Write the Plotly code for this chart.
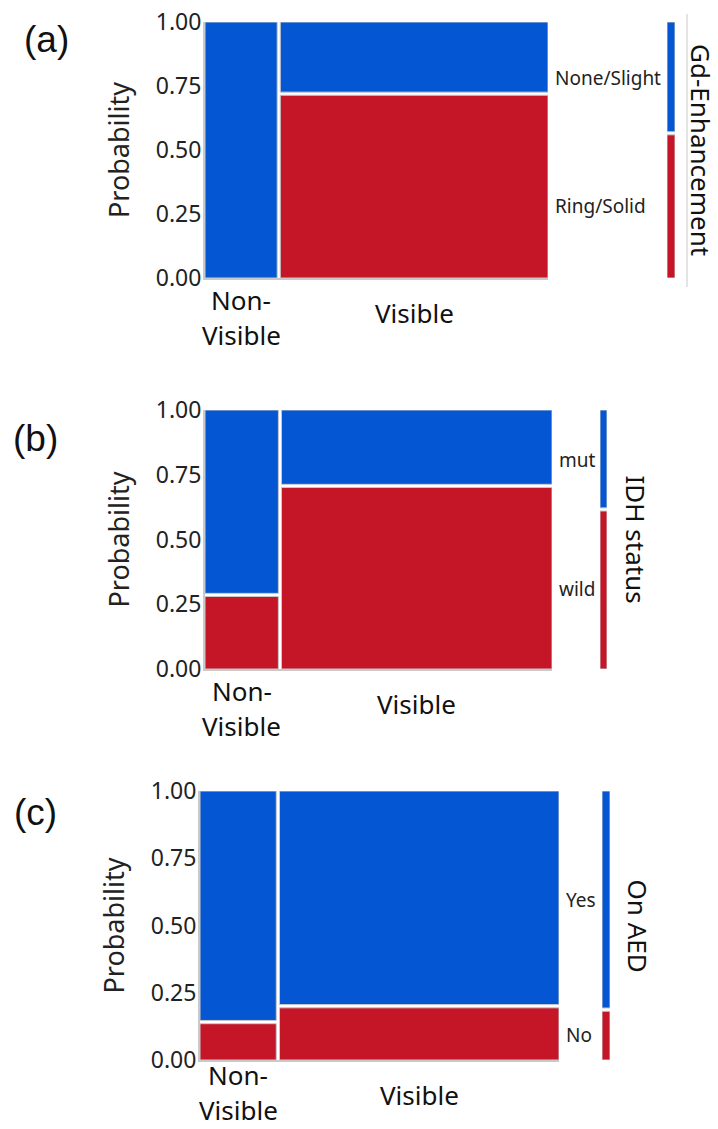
import plotly.graph_objects as go

W, H = 718, 1129

# ---------------- data ----------------
panel_tags = ["(a)", "(b)", "(c)"]
x_categories = ["Non-Visible", "Visible"]
nonvisible_share = [0.215, 0.216, 0.217]          # width of the Non-Visible column
group_titles = ["Gd-Enhancement", "IDH status", "On AED"]
top_levels = ["None/Slight", "mut", "Yes"]        # blue (upper) level
bottom_levels = ["Ring/Solid", "wild", "No"]      # red (lower) level
red_nonvisible = [0.0, 0.286, 0.141]              # proportion of lower level in Non-Visible
red_visible = [0.72, 0.707, 0.20]                 # proportion of lower level in Visible
y_ticks = [0.0, 0.25, 0.5, 0.75, 1.0]

# ---------------- styling ----------------
BLUE = "#0556D3"
RED = "#C51628"
EDGE = "#c9c9c9"
FONT = "Noto Sans"

panels_px = [
    dict(l=205, r=548, t=22, b=278, bar=(667, 675), title_x=701, tag=(46, 40)),
    dict(l=205, r=552, t=410, b=669, bar=(600, 607), title_x=636, tag=(35, 438)),
    dict(l=200, r=559, t=791, b=1060, bar=(602, 610), title_x=638, tag=(35, 812)),
]

def px_x(p):
    return p / W

def px_y(p):
    return 1 - p / H

fig = go.Figure()
annotations = []
shapes = []
layout_axes = {}

GX = 0.009
GY = 0.012

for i in range(3):
    geo = panels_px[i]
    xa = f"x{2*i+1}" if i else "x"
    xb = f"x{2*i+2}"
    ya = f"y{i+1}" if i else "y"
    xa_key = "xaxis" + (str(2*i+1) if i else "")
    xb_key = "xaxis" + str(2*i+2)
    ya_key = "yaxis" + (str(i+1) if i else "")

    w0 = nonvisible_share[i]
    cols = [(0.0, w0 - GX/2, red_nonvisible[i]), (w0 + GX/2, 1.0, red_visible[i])]
    for (x0, x1, r) in cols:
        xc = (x0 + x1) / 2
        wd = x1 - x0
        if r > 0:
            fig.add_trace(go.Bar(x=[xc], y=[r - GY/2], base=[0], width=[wd],
                                 marker=dict(color=RED, line=dict(color=EDGE, width=1)),
                                 xaxis=xa, yaxis=ya, showlegend=False, hoverinfo="skip"))
            bb = r + GY/2
        else:
            bb = 0
        fig.add_trace(go.Bar(x=[xc], y=[1 - bb], base=[bb], width=[wd],
                             marker=dict(color=BLUE, line=dict(color=EDGE, width=1)),
                             xaxis=xa, yaxis=ya, showlegend=False, hoverinfo="skip"))

    red_m = w0 * red_nonvisible[i] + (1 - w0) * red_visible[i]
    fig.add_trace(go.Bar(x=[0.5], y=[red_m - GY/2], base=[0], width=[1],
                         marker=dict(color=RED, line=dict(color=EDGE, width=1)),
                         xaxis=xb, yaxis=ya, showlegend=False, hoverinfo="skip"))
    fig.add_trace(go.Bar(x=[0.5], y=[1 - red_m - GY/2], base=[red_m + GY/2], width=[1],
                         marker=dict(color=BLUE, line=dict(color=EDGE, width=1)),
                         xaxis=xb, yaxis=ya, showlegend=False, hoverinfo="skip"))

    layout_axes[xa_key] = dict(domain=[px_x(geo["l"]), px_x(geo["r"])], range=[0, 1],
                               anchor=ya, showgrid=False, zeroline=False, showticklabels=False,
                               showline=True, linecolor=EDGE, linewidth=2, fixedrange=True,
                               automargin=False)
    layout_axes[xb_key] = dict(domain=[px_x(geo["bar"][0]), px_x(geo["bar"][1])], range=[0, 1],
                               anchor=ya, showgrid=False, zeroline=False, showticklabels=False,
                               showline=False, fixedrange=True, automargin=False)
    layout_axes[ya_key] = dict(domain=[px_y(geo["b"]), px_y(geo["t"])], range=[0, 1],
                               anchor=xa, showgrid=False, zeroline=False,
                               tickvals=y_ticks, ticktext=[f"{v:.2f}" for v in y_ticks],
                               tickfont=dict(family=FONT, size=23, color="#222"),
                               ticks="", ticklabelstandoff=-3, automargin=False,
                               showline=True, linecolor=EDGE, linewidth=2, fixedrange=True,
                               title=dict(text="Probability", font=dict(family=FONT, size=27, color="#222"),
                                          standoff=18))

    annotations.append(dict(text=top_levels[i], x=1, xref=xa + " domain", xshift=5, xanchor="left",
                            y=(red_m + 1) / 2, yref=ya, yanchor="middle", showarrow=False,
                            font=dict(family=FONT, size=19, color="#222")))
    annotations.append(dict(text=bottom_levels[i], x=1, xref=xa + " domain", xshift=5, xanchor="left",
                            y=red_m / 2, yref=ya, yanchor="middle", showarrow=False,
                            font=dict(family=FONT, size=19, color="#222")))
    annotations.append(dict(text=group_titles[i], x=px_x(geo["title_x"]), xref="paper", xanchor="center",
                            y=0.5, yref=ya + " domain", yanchor="middle", textangle=90, showarrow=False,
                            font=dict(family=FONT, size=26, color="#111")))
    b = geo["b"]
    c0 = (cols[0][0] + cols[0][1]) / 2
    c1 = (cols[1][0] + cols[1][1]) / 2
    first, second = x_categories[0].split("-")
    y_non = min(b + 22, H - 19 - 35)
    for txt, xc, yp in [(first + "-", c0, y_non), (second, c0, y_non + 35),
                        (x_categories[1], c1, b + 35)]:
        annotations.append(dict(text=txt, x=xc, xref=xa, xanchor="center",
                                y=px_y(yp), yref="paper", yanchor="middle", borderpad=0,
                                showarrow=False, font=dict(family=FONT, size=26, color="#111")))
    annotations.append(dict(text=panel_tags[i], x=px_x(geo["tag"][0]), xref="paper", xanchor="center",
                            y=px_y(geo["tag"][1]), yref="paper", yanchor="middle", showarrow=False,
                            font=dict(family="Liberation Sans", size=37, color="#111")))

shapes.append(dict(type="line", xref="paper", yref="paper", x0=px_x(687), x1=px_x(687),
                   y0=px_y(14), y1=px_y(287), line=dict(color=EDGE, width=1)))

fig.update_layout(width=W, height=H, margin=dict(l=0, r=0, t=0, b=0, autoexpand=False),
                  paper_bgcolor="white", plot_bgcolor="white", barmode="overlay",
                  annotations=annotations, shapes=shapes, **layout_axes)

fig.write_html("out.html", config={"displayModeBar": False},
               post_script="document.body.style.margin='0';document.body.style.overflow='hidden';")
